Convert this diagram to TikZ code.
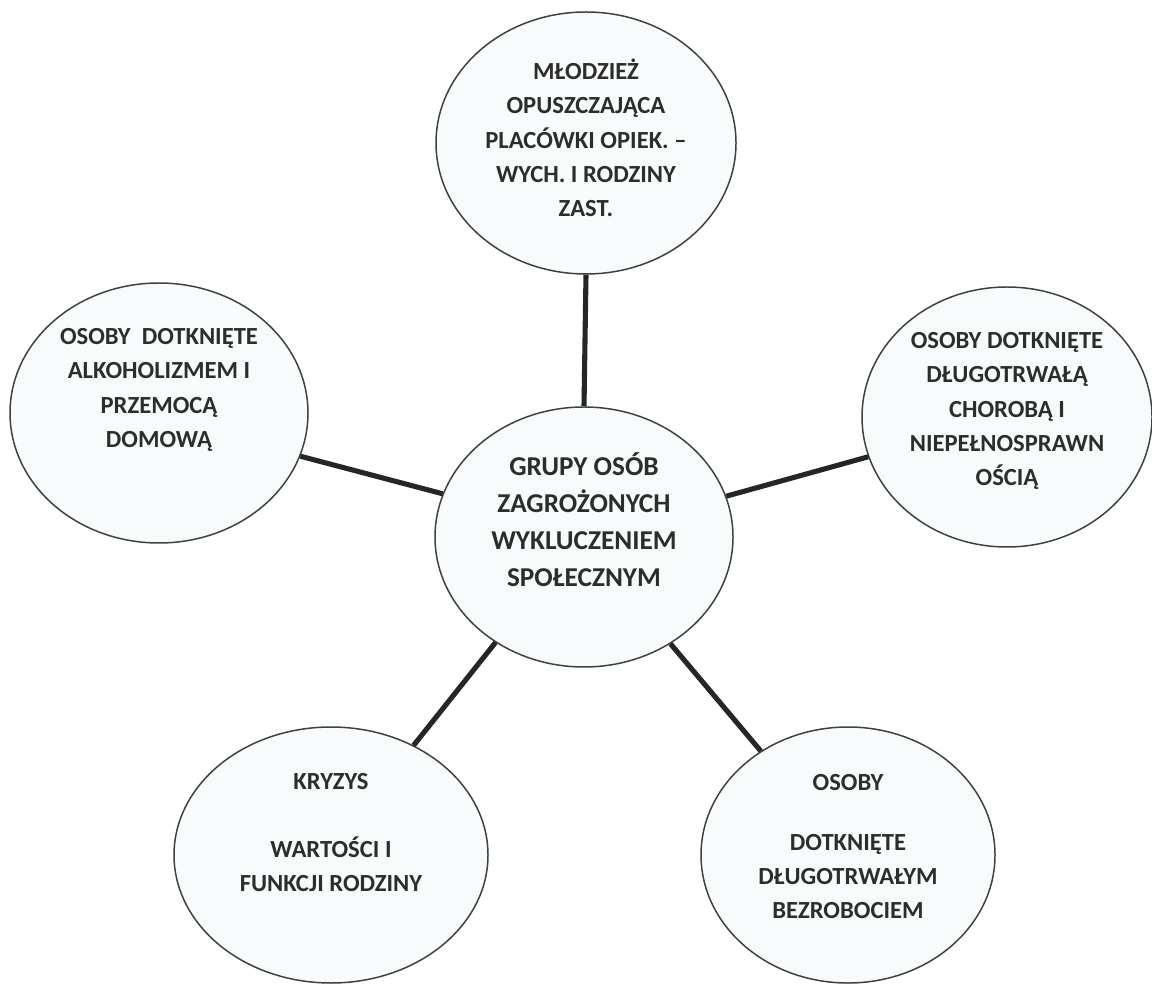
\documentclass[tikz,border=0pt]{standalone}
\usepackage{fontspec}
\setmainfont{Carlito}
\usetikzlibrary{shapes.geometric}

\definecolor{bubblefill}{RGB}{248,251,252}
\definecolor{textgrey}{RGB}{45,45,45}

\tikzset{
  bubble/.style={ellipse, draw=black!75, line width=0.85pt, fill=bubblefill,
    minimum width=5.96cm, minimum height=5.2cm, inner sep=0pt},
  bubbletext/.style={align=center, text=textgrey,
    font=\bfseries\fontsize{14}{19.5}\selectfont},
  link/.style={line width=2.9pt, black!85},
}

\begin{document}
\begin{tikzpicture}
    \useasboundingbox (0,0) rectangle (23.04,19.68);
    % the circles
    \node[bubble] (mid) at (11.68,8.94) {};
    \node[bubble, minimum width=6cm, minimum height=5.24cm] (top) at (11.72,16.82) {};
    \node[bubble] (left) at (3.18,11.42) {};
    \node[bubble, minimum width=5.8cm] (right) at (20.14,11.34) {};
    \node[bubble, minimum width=6.28cm, minimum height=5.12cm] (botleft) at (6.62,2.58) {};
    \node[bubble, minimum width=5.88cm, minimum height=5.12cm] (botright) at (16.96,2.58) {};
    % the links
    \draw[link] (mid.90) -- (top.270);
    \draw[link] (mid.163.7) -- (left.343);
    \draw[link] (mid.16.3) -- (right.196.3);
    \draw[link] (mid.230.1) -- (botleft.53.8);
    \draw[link] (mid.309.6) -- (botright.130);
    % the texts
    \node[bubbletext, font=\bfseries\fontsize{15.5}{21}\selectfont] (midtext) at ([yshift=0.34cm]mid.center)
      {GRUPY OSÓB\\ZAGROŻONYCH\\WYKLUCZENIEM\\SPOŁECZNYM};
    \node[bubbletext] (toptext) at ([yshift=0.1cm]top.center)
      {MŁODZIEŻ\\OPUSZCZAJĄCA\\PLACÓWKI OPIEK. –\\WYCH. I RODZINY\\ZAST.};
    \node[bubbletext] (lefttext) at ([yshift=0.46cm]left.center)
      {OSOBY~ DOTKNIĘTE\\ALKOHOLIZMEM I\\PRZEMOCĄ\\DOMOWĄ};
    \node[bubbletext] (righttext) at ([yshift=0.12cm]right.center)
      {OSOBY DOTKNIĘTE\\DŁUGOTRWAŁĄ\\CHOROBĄ I\\NIEPEŁNOSPRAWN\\OŚCIĄ};
    \node[bubbletext] (botlefttext) at ([yshift=0.45cm]botleft.center)
      {KRYZYS\\[0.68cm]WARTOŚCI I\\FUNKCJI RODZINY};
    \node[bubbletext] (botrighttext) at ([yshift=0.17cm]botright.center)
      {OSOBY\\[0.52cm]DOTKNIĘTE\\DŁUGOTRWAŁYM\\BEZROBOCIEM};
\end{tikzpicture}
\end{document}
